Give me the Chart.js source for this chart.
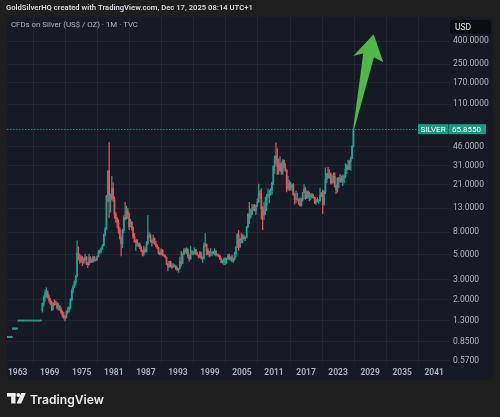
<!DOCTYPE html>
<html><head><meta charset="utf-8">
<script src="https://cdn.jsdelivr.net/npm/chart.js@4/dist/chart.umd.min.js"></script>
<style>html,body{margin:0;padding:0;background:#1e1e1e;overflow:hidden}#wrap{width:500px;height:417px;position:relative}</style>
</head><body><div id="wrap"><canvas id="c" width="500" height="417"></canvas></div>
<script>
// Quarterly candles (quarter start month)
const periods = [
"1961-01","1961-04","1961-07","1961-10","1962-01","1962-04","1962-07","1962-10",
"1963-01","1963-04","1963-07","1963-10","1964-01","1964-04","1964-07","1964-10",
"1965-01","1965-04","1965-07","1965-10","1966-01","1966-04","1966-07","1966-10",
"1967-01","1967-04","1967-07","1967-10","1968-01","1968-04","1968-07","1968-10",
"1969-01","1969-04","1969-07","1969-10","1970-01","1970-04","1970-07","1970-10",
"1971-01","1971-04","1971-07","1971-10","1972-01","1972-04","1972-07","1972-10",
"1973-01","1973-04","1973-07","1973-10","1974-01","1974-04","1974-07","1974-10",
"1975-01","1975-04","1975-07","1975-10","1976-01","1976-04","1976-07","1976-10",
"1977-01","1977-04","1977-07","1977-10","1978-01","1978-04","1978-07","1978-10",
"1979-01","1979-04","1979-07","1979-10","1980-01","1980-04","1980-07","1980-10",
"1981-01","1981-04","1981-07","1981-10","1982-01","1982-04","1982-07","1982-10",
"1983-01","1983-04","1983-07","1983-10","1984-01","1984-04","1984-07","1984-10",
"1985-01","1985-04","1985-07","1985-10","1986-01","1986-04","1986-07","1986-10",
"1987-01","1987-04","1987-07","1987-10","1988-01","1988-04","1988-07","1988-10",
"1989-01","1989-04","1989-07","1989-10","1990-01","1990-04","1990-07","1990-10",
"1991-01","1991-04","1991-07","1991-10","1992-01","1992-04","1992-07","1992-10",
"1993-01","1993-04","1993-07","1993-10","1994-01","1994-04","1994-07","1994-10",
"1995-01","1995-04","1995-07","1995-10","1996-01","1996-04","1996-07","1996-10",
"1997-01","1997-04","1997-07","1997-10","1998-01","1998-04","1998-07","1998-10",
"1999-01","1999-04","1999-07","1999-10","2000-01","2000-04","2000-07","2000-10",
"2001-01","2001-04","2001-07","2001-10","2002-01","2002-04","2002-07","2002-10",
"2003-01","2003-04","2003-07","2003-10","2004-01","2004-04","2004-07","2004-10",
"2005-01","2005-04","2005-07","2005-10","2006-01","2006-04","2006-07","2006-10",
"2007-01","2007-04","2007-07","2007-10","2008-01","2008-04","2008-07","2008-10",
"2009-01","2009-04","2009-07","2009-10","2010-01","2010-04","2010-07","2010-10",
"2011-01","2011-04","2011-07","2011-10","2012-01","2012-04","2012-07","2012-10",
"2013-01","2013-04","2013-07","2013-10","2014-01","2014-04","2014-07","2014-10",
"2015-01","2015-04","2015-07","2015-10","2016-01","2016-04","2016-07","2016-10",
"2017-01","2017-04","2017-07","2017-10","2018-01","2018-04","2018-07","2018-10",
"2019-01","2019-04","2019-07","2019-10","2020-01","2020-04","2020-07","2020-10",
"2021-01","2021-04","2021-07","2021-10","2022-01","2022-04","2022-07","2022-10",
"2023-01","2023-04","2023-07","2023-10","2024-01","2024-04","2024-07","2024-10",
"2025-01","2025-04","2025-07","2025-10"
];
const opens = [
0.925,0.925,0.925,0.925, 1.10,1.10,1.10,1.10, 1.293,1.293,1.293,1.293, 1.293,1.293,1.293,1.293,
1.293,1.293,1.293,1.293, 1.293,1.293,1.293,1.293, 1.293,1.293,1.60,1.85, 2.10,2.30,2.30,2.15,
1.97,1.85,1.65,1.85, 1.82,1.85,1.70,1.75, 1.65,1.55,1.45,1.40, 1.38,1.55,1.58,1.70,
2.00,2.40,2.60,2.85, 3.25,5.20,4.70,4.80, 4.40,4.30,4.60,4.80, 4.20,4.10,4.75,4.40,
4.35,4.80,4.50,4.55, 4.85,5.30,5.40,5.70, 6.05,7.60,8.50,16.8, 28.0,15.0,16.0,19.5,
15.7,11.5,10.5,9.6, 8.45,7.0,6.3,8.2, 10.7,10.6,12.3,11.6, 8.9,9.8,8.7,7.3,
6.5,6.7,6.1,6.2, 5.9,5.4,5.1,5.6, 5.4,6.3,7.4,7.4, 6.7,6.5,7.0,6.3,
6.1,5.8,5.2,5.1, 5.5,5.0,4.9,4.8, 4.2,3.9,4.4,4.0, 3.9,4.0,4.0,3.8,
3.7,3.8,4.4,4.2, 5.1,5.5,5.3,5.6, 4.9,4.6,5.2,5.3, 5.2,5.6,5.1,5.0,
4.8,5.2,4.7,4.7, 6.0,6.2,5.5,5.2, 5.0,5.2,5.2,5.2, 5.4,5.0,5.0,4.9,
4.6,4.3,4.3,4.6, 4.6,4.6,4.9,4.6, 4.8,4.4,4.6,5.1, 5.9,7.5,5.9,6.9,
6.8,7.1,7.0,7.1, 8.9,11.5,10.9,11.5, 12.9,13.3,12.4,13.7, 14.8,17.5,17.4,12.9,
11.3,13.1,13.9,16.8, 16.9,17.5,18.7,22.0, 30.9,37.9,35.0,30.5, 28.1,32.5,27.5,34.6,
30.3,28.3,19.7,21.7, 19.5,19.7,21.0,17.1, 15.6,15.6,15.6,14.5, 13.8,15.5,18.0,19.2,
15.9,18.1,16.6,16.6, 17.0,16.3,16.3,14.6, 15.5,15.1,15.3,17.0, 17.9,14.1,18.2,23.4,
26.4,24.5,26.2,21.9, 23.3,25.0,20.3,19.0, 24.0,24.1,22.8,22.3, 23.8,25.0,29.1,31.1,
28.9,34.1,36.0,46.6
];
const highs = [
0.93,0.93,0.93,0.93, 1.11,1.11,1.11,1.11, 1.293,1.293,1.293,1.293, 1.293,1.293,1.293,1.293,
1.293,1.293,1.293,1.293, 1.293,1.293,1.293,1.293, 1.293,1.293,1.87,2.17, 2.45,2.56,2.40,2.20,
2.05,1.95,1.90,2.00, 1.95,1.92,1.85,1.78, 1.70,1.60,1.55,1.45, 1.60,1.70,1.75,2.05,
2.50,2.70,2.95,3.30, 6.70,5.90,5.10,4.95, 4.85,4.70,5.10,4.85, 4.30,5.10,4.85,4.60,
4.90,4.85,4.60,4.90, 5.50,5.55,5.80,6.20, 7.70,8.80,17.0,28.0, 50.0,17.5,25.0,22.0,
16.5,12.0,10.8,10.3, 8.8,7.3,8.5,11.2, 14.7,13.6,13.0,11.8, 10.4,9.9,8.9,7.8,
6.8,6.9,6.4,6.4, 6.0,5.5,6.0,5.8, 6.6,11.2,8.0,7.7, 6.8,7.5,7.1,6.6,
6.2,5.9,5.3,5.7, 5.6,5.1,5.0,4.8, 4.2,4.4,4.4,4.2, 4.2,4.1,4.0,3.9,
3.8,4.8,5.4,5.2, 5.7,5.7,5.8,5.7, 5.0,6.0,5.5,5.4, 5.8,5.6,5.3,5.0,
5.4,5.3,4.8,6.4, 7.8,6.3,5.7,5.4, 5.7,5.3,5.4,5.7, 5.5,5.1,5.1,5.0,
4.7,4.5,4.7,4.7, 4.7,5.1,5.1,4.8, 5.0,4.7,5.3,5.9, 7.8,8.3,7.0,7.8,
7.6,7.5,7.3,9.0, 11.7,14.7,12.9,14.2, 14.0,14.1,13.8,15.8, 21.4,18.8,19.5,13.5,
14.6,16.3,17.3,19.4, 18.9,19.6,22.2,31.0, 38.2,49.8,44.3,35.8, 37.5,33.1,35.4,35.0,
32.5,28.8,25.1,23.1, 22.2,21.4,21.6,17.8, 18.5,17.8,15.8,16.2, 16.0,18.0,21.2,20.0,
18.5,18.6,18.2,17.6, 17.7,17.3,16.4,15.6, 16.2,15.5,19.7,18.0, 18.9,18.8,29.8,26.5,
30.1,28.7,26.9,25.4, 27.0,26.9,21.1,24.3, 24.6,26.1,25.3,25.9, 25.8,32.5,31.8,34.9,
34.6,37.3,47.2,66.9
];
const lows = [
0.92,0.92,0.92,0.92, 1.09,1.09,1.09,1.09, 1.293,1.293,1.293,1.293, 1.293,1.293,1.293,1.293,
1.293,1.293,1.293,1.293, 1.293,1.293,1.293,1.293, 1.293,1.293,1.55,1.75, 1.95,2.10,2.05,1.90,
1.80,1.60,1.62,1.78, 1.80,1.65,1.62,1.60, 1.50,1.40,1.35,1.29, 1.37,1.50,1.55,1.65,
1.95,2.30,2.55,2.70, 3.20,4.50,4.20,4.30, 4.00,4.20,4.50,4.10, 3.85,4.05,4.25,4.30,
4.30,4.40,4.40,4.50, 4.80,5.20,5.20,5.60, 6.00,7.40,8.40,15.0, 10.8,12.0,15.5,15.0,
10.6,9.8,8.8,7.8, 6.9,4.9,5.8,7.9, 10.2,10.4,10.6,8.4, 8.9,8.3,7.0,6.5,
5.5,6.0,5.9,5.7, 5.4,4.9,4.9,5.3, 5.3,6.2,7.1,6.5, 6.0,6.4,6.2,5.9,
5.7,5.1,5.0,5.0, 4.9,4.9,4.7,4.1, 3.6,3.9,3.9,3.8, 3.9,3.9,3.7,3.6,
3.5,3.8,4.0,4.2, 5.0,5.2,5.1,4.7, 4.4,4.6,5.0,5.0, 5.1,5.0,5.0,4.7,
4.7,4.6,4.3,4.6, 5.9,5.0,5.0,4.8, 4.9,4.9,5.1,5.0, 4.9,4.9,4.8,4.6,
4.3,4.2,4.1,4.1, 4.2,4.6,4.5,4.5, 4.4,4.3,4.5,4.8, 5.8,5.5,5.8,6.4,
6.4,6.9,6.7,7.1, 8.8,9.5,10.6,11.4, 12.4,12.3,11.4,13.4, 14.7,15.9,10.4,8.4,
10.3,11.4,12.4,16.2, 14.6,17.0,17.4,21.2, 26.4,32.3,26.1,26.2, 28.0,26.1,26.2,29.9,
27.9,18.2,18.9,18.8, 19.0,18.6,17.0,14.2, 14.6,15.3,14.0,13.6, 13.6,15.1,17.8,15.6,
15.9,16.1,15.2,15.6, 16.1,16.0,14.3,14.0, 14.8,14.3,15.0,16.5, 11.6,13.9,17.5,21.9,
24.1,24.1,21.4,21.4, 21.9,20.1,17.6,18.1, 19.9,22.1,22.3,20.7, 21.9,24.4,26.5,28.7,
28.8,28.3,35.7,45.5
];
const closes = [
0.925,0.925,0.925,0.925, 1.10,1.10,1.10,1.10, 1.293,1.293,1.293,1.293, 1.293,1.293,1.293,1.293,
1.293,1.293,1.293,1.293, 1.293,1.293,1.293,1.293, 1.293,1.293,1.85,2.10, 2.30,2.30,2.15,1.97,
1.85,1.65,1.85,1.82, 1.85,1.70,1.75,1.65, 1.55,1.45,1.40,1.38, 1.55,1.58,1.70,2.00,
2.40,2.60,2.85,3.25, 5.20,4.70,4.80,4.40, 4.30,4.60,4.80,4.20, 4.10,4.75,4.40,4.35,
4.80,4.50,4.55,4.85, 5.30,5.40,5.70,6.05, 7.60,8.50,16.8,28.0, 15.0,16.0,19.5,15.7,
11.5,10.5,9.6,8.45, 7.0,6.3,8.2,10.7, 10.6,12.3,11.6,8.9, 9.8,8.7,7.3,6.5,
6.7,6.1,6.2,5.9, 5.4,5.1,5.6,5.4, 6.3,7.4,7.4,6.7, 6.5,7.0,6.3,6.1,
5.8,5.2,5.1,5.5, 5.0,4.9,4.8,4.2, 3.9,4.4,4.0,3.9, 4.0,4.0,3.8,3.7,
3.8,4.4,4.2,5.1, 5.5,5.3,5.6,4.9, 4.6,5.2,5.3,5.2, 5.6,5.1,5.0,4.8,
5.2,4.7,4.7,6.0, 6.2,5.5,5.2,5.0, 5.2,5.2,5.2,5.4, 5.0,5.0,4.9,4.6,
4.3,4.3,4.6,4.6, 4.6,4.9,4.6,4.8, 4.4,4.6,5.1,5.9, 7.5,5.9,6.9,6.8,
7.1,7.0,7.1,8.9, 11.5,10.9,11.5,12.9, 13.3,12.4,13.7,14.8, 17.5,17.4,12.9,11.3,
13.1,13.9,16.8,16.9, 17.5,18.7,22.0,30.9, 37.9,35.0,30.5,28.1, 32.5,27.5,34.6,30.3,
28.3,19.7,21.7,19.5, 19.7,21.0,17.1,15.6, 15.6,15.6,14.5,13.8, 15.5,18.0,19.2,15.9,
18.1,16.6,16.6,17.0, 16.3,16.3,14.6,15.5, 15.1,15.3,17.0,17.9, 14.1,18.2,23.4,26.4,
24.5,26.2,21.9,23.3, 25.0,20.3,19.0,24.0, 24.1,22.8,22.3,23.8, 25.0,29.1,31.1,28.9,
34.1,36.0,46.6,65.855
];
const priceTicks = [0.57, 0.85, 1.3, 2, 3, 5, 8, 13, 21, 31, 46, 110, 170, 250, 400];
const yearTicks = [1963, 1969, 1975, 1981, 1987, 1993, 1999, 2005, 2011, 2017, 2023, 2029, 2035, 2041];
const lastPrice = 65.855;
const seriesName = "SILVER";
// annotation arrow outline in data units [year, price]
const arrowPoints = [[2025.82, 65.855], [2027.72, 312], [2025.85, 295], [2029.67, 460], [2031.46, 259], [2029.72, 287], [2026.08, 67.5]];

const UP = '#22a090', DOWN = '#e8505a';
const xs = periods.map(p => { const [y, m] = p.split('-').map(Number); return y + (m - 1) / 12 + 0.125; });
const colors = closes.map((c, i) => c >= opens[i] ? UP : DOWN);

const decor = {
  id: 'decor',
  beforeDraw(chart) {
    const ctx = chart.ctx;
    ctx.save();
    ctx.fillStyle = '#1e1e1e';
    ctx.fillRect(0, 0, 500, 417);
    ctx.fillStyle = '#161a25';
    ctx.beginPath();
    ctx.roundRect(7, 17, 486, 363, 4);
    ctx.fill();
    ctx.restore();
  },
  afterDatasetsDraw(chart) {
    const ctx = chart.ctx, xS = chart.scales.x, yS = chart.scales.y, a = chart.chartArea;
    ctx.save();
    const py = Math.round(yS.getPixelForValue(lastPrice));
    ctx.fillStyle = '#15917d';
    for (let x = a.left; x < a.right; x += 3) ctx.fillRect(x, py, 1.5, 1);
    ctx.fillStyle = '#4fb848';
    ctx.beginPath();
    arrowPoints.forEach((p, i) => {
      const X = xS.getPixelForValue(p[0]), Y = yS.getPixelForValue(p[1]);
      if (i === 0) ctx.moveTo(X, Y); else ctx.lineTo(X, Y);
    });
    ctx.closePath();
    ctx.fill();
    ctx.restore();
  },
  afterDraw(chart) {
    const ctx = chart.ctx, yS = chart.scales.y;
    ctx.save();
    ctx.fillStyle = '#d6d8de';
    ctx.textBaseline = 'middle';
    ctx.textAlign = 'left';
    const header = 'GoldSilverHQ created with TradingView.com, Dec 17, 2025 08:14 UTC+1';
    ctx.font = '600 8px Roboto';
    let w = ctx.measureText(header).width;
    ctx.font = '600 ' + (8 * 247 / w).toFixed(2) + 'px Roboto';
    ctx.fillText(header, 6, 8.5);
    const title = 'CFDs on Silver (US$ / OZ) · 1M · TVC';
    ctx.fillStyle = '#b2b5be';
    ctx.font = '8px Roboto';
    w = ctx.measureText(title).width;
    ctx.font = (8 * 127 / w).toFixed(2) + 'px Roboto';
    ctx.fillText(title, 11, 25.5);
    ctx.fillStyle = '#0c0d10';
    ctx.beginPath(); ctx.roundRect(450, 20, 41, 14, 2); ctx.fill();
    ctx.fillStyle = '#e6e7ea';
    ctx.font = '8.5px Roboto';
    ctx.fillText('USD', 455, 27.5);
    const py = yS.getPixelForValue(lastPrice);
    ctx.fillStyle = '#179c84';
    ctx.fillRect(418, py - 5, 30, 10);
    ctx.fillRect(448.5, py - 5, 37.5, 10);
    ctx.fillStyle = '#ffffff';
    ctx.font = '8px Roboto';
    ctx.textAlign = 'center';
    ctx.fillText(seriesName, 433, py + 0.5);
    ctx.textAlign = 'left';
    ctx.fillText(lastPrice.toFixed(4), 452, py + 0.5);
    ctx.fillStyle = '#ececec';
    ctx.fillRect(7, 393, 8.5, 3.6);
    ctx.fillRect(11.2, 393, 4.3, 10.5);
    ctx.beginPath(); ctx.arc(18.3, 395, 1.9, 0, Math.PI * 2); ctx.fill();
    ctx.beginPath();
    ctx.moveTo(21.2, 393); ctx.lineTo(25.8, 393); ctx.lineTo(21.2, 403.5); ctx.lineTo(16.6, 403.5);
    ctx.closePath(); ctx.fill();
    ctx.font = '600 14px Inter';
    w = ctx.measureText('TradingView').width;
    ctx.font = '600 ' + (14 * 74 / w).toFixed(2) + 'px Inter';
    ctx.textBaseline = 'alphabetic';
    ctx.fillText('TradingView', 30, 403.5);
    ctx.restore();
  }
};

new Chart(document.getElementById('c'), {
  type: 'bar',
  data: {
    datasets: [
      { label: 'wick', data: xs.map((x, i) => ({ x, y: [lows[i], highs[i]] })), backgroundColor: colors,
        barThickness: 0.6, grouped: false, order: 2, borderWidth: 0 },
      { label: 'body', data: xs.map((x, i) => ({ x, y: [Math.min(opens[i], closes[i]), Math.max(opens[i], closes[i])] })),
        backgroundColor: colors, barThickness: 1.1, grouped: false, order: 1, borderWidth: 0, minBarLength: 1 }
    ]
  },
  options: {
    responsive: false, animation: false, events: [], devicePixelRatio: 1,
    layout: { padding: { left: 7, top: 17, right: 7, bottom: 37 } },
    plugins: { legend: { display: false }, tooltip: { enabled: false } },
    scales: {
      x: {
        type: 'linear', min: 1961.0, max: 2043.96, bounds: 'data', offset: false,
        afterBuildTicks: s => { s.ticks = yearTicks.map(v => ({ value: v })); },
        afterFit: s => { s.height = 16; },
        grid: { color: '#222632', drawTicks: false, lineWidth: 1 },
        border: { display: false },
        ticks: { color: '#b2b5be', font: { family: 'Roboto', size: 8.5, weight: '600' }, padding: 4,
          maxRotation: 0, autoSkip: false, callback: v => String(v) }
      },
      y: {
        type: 'logarithmic', position: 'right', min: 0.536, max: 655.3, bounds: 'data',
        afterBuildTicks: s => { s.ticks = priceTicks.map(v => ({ value: v })); },
        afterFit: s => { s.width = 43; },
        grid: { color: '#222632', drawTicks: false, lineWidth: 1 },
        border: { display: false },
        ticks: { color: '#b2b5be', font: { family: 'Roboto', size: 8.5 }, padding: 3, autoSkip: false,
          callback: v => Number(v).toFixed(4) }
      }
    }
  },
  plugins: [decor]
});
</script></body></html>
